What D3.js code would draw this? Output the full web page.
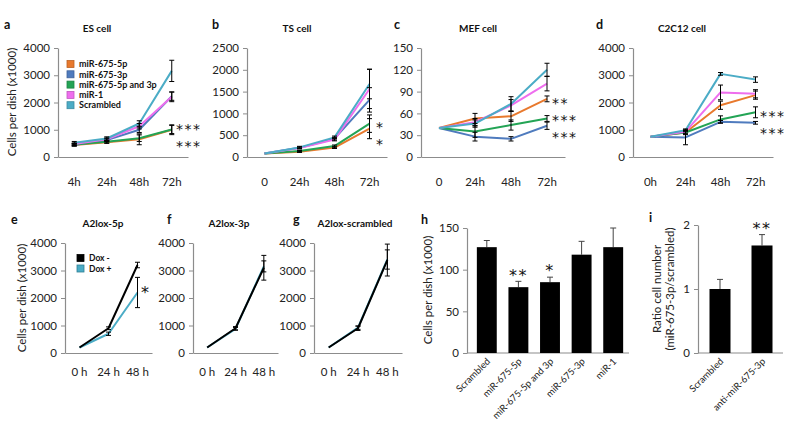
<!DOCTYPE html>
<html><head><meta charset="utf-8">
<script src="https://cdn.jsdelivr.net/npm/d3@7"></script>
<style>body{margin:0;background:#fff}svg{display:block}</style>
</head><body>
<svg id="chart" width="800" height="425"></svg>
<script>
// ---------------- DATA ----------------
const seriesNames = ["miR-675-5p","miR-675-3p","miR-675-5p and 3p","miR-1","Scrambled"];
const seriesColors = ["#E8792D","#4F7BBE","#23A455","#EE6EEE","#4BACC6"];

const timesA = ["4h","24h","48h","72h"];
const timesBC = ["0","24h","48h","72h"];
const timesD = ["0h","24h","48h","72h"];
const timesEFG = ["0 h","24 h","48 h"];

// a: ES cell
const es5p = [440, 540, 650, 1000],   es5pErr = [40, 40, 200, 180];
const es3p = [440, 620, 1000, 2230],  es3pErr = [40, 50, 100, 150];
const es53 = [460, 560, 690, 1010],   es53Err = [40, 40, 120, 150];
const esMiR1 = [475, 650, 1130, 2210],esMiR1Err = [40, 50, 100, 180];
const esScr = [520, 680, 1230, 3160], esScrErr = [50, 60, 100, 390];
const esTicks = [0,1000,2000,3000,4000];

// b: TS cell
const ts5p = [80, 120, 215, 650],     ts5pErr = [0, 15, 20, 230];
const ts3p = [80, 210, 420, 1310],    ts3pErr = [0, 20, 30, 280];
const ts53 = [80, 135, 250, 765],     ts53Err = [0, 15, 25, 200];
const tsMiR1 = [80, 205, 400, 1560],  tsMiR1Err = [0, 20, 30, 450];
const tsScr = [80, 220, 450, 1675],   tsScrErr = [0, 25, 30, 340];
const tsTicks = [0,500,1000,1500,2000,2500];

// c: MEF cell
const mef5p = [40, 53, 56, 80],       mef5pErr = [0, 7, 7, 4];
const mef3p = [40, 28, 25, 43],       mef3pErr = [0, 6, 3, 5];
const mef53 = [40, 35, 44, 53],       mef53Err = [0, 8, 7, 4];
const mefMiR1 = [40, 48, 71, 101],    mefMiR1Err = [0, 5, 8, 10];
const mefScr = [40, 46, 73, 120],     mefScrErr = [0, 5, 10, 9];
const mefTicks = [0,30,60,90,120,150];

// d: C2C12 cell
const c2_5p = [745, 900, 1900, 2270], c2_5pErr = [0, 80, 150, 150];
const c2_3p = [745, 720, 1290, 1255], c2_3pErr = [0, 270, 50, 50];
const c2_53 = [745, 900, 1380, 1640], c2_53Err = [0, 60, 130, 200];
const c2MiR1 = [745, 930, 2370, 2320],c2MiR1Err = [0, 60, 270, 150];
const c2Scr = [745, 980, 3050, 2840], c2ScrErr = [0, 50, 50, 100];
const c2Ticks = [0,1000,2000,3000,4000];

// e/f/g: A2lox
const doxNames = ["Dox -","Dox +"];
const doxColors = ["#000000","#4BACC6"];
const e5pMinus = [200, 900, 3200],  e5pMinusErr = [0, 50, 100];
const e5pPlus = [200, 700, 2200],   e5pPlusErr = [0, 60, 550];
const f3pMinus = [200, 900, 3100],  f3pMinusErr = [0, 60, 450];
const f3pPlus = [200, 880, 3150],   f3pPlusErr = [0, 50, 200];
const gScrMinus = [200, 900, 3380], gScrMinusErr = [0, 80, 580];
const gScrPlus = [200, 920, 3400],  gScrPlusErr = [0, 60, 350];
const a2Ticks = [0,1000,2000,3000,4000];

// h: bars
const hCats = ["Scrambled","miR-675-5p","miR-675-5p and 3p","miR-675-3p","miR-1"];
const hVals = [127, 79, 85, 118, 127];
const hErr = [8, 7, 6, 16, 23];
const hStars = ["", "**", "*", "", ""];
const hTicks = [0,50,100,150];

// i: bars
const iCats = ["Scrambled","anti-miR-675-3p"];
const iVals = [1.0, 1.68];
const iErr = [0.15, 0.17];
const iStars = ["", "**"];
const iTicks = [0,1,2];

// significance annotations beside the line panels
const starsA = ["***","***"];
const starsB = ["*","*"];
const starsC = ["**","***","***"];
const starsD = ["***","***"];
const starsE = ["*"];

// ---------------- DRAW ----------------
const FONT = "Lato, 'Open Sans', sans-serif";
const AX = "#8c8c8c";
const TXT = "#222";
const svg = d3.select("#chart");
const fmt = d3.format("d");

function styleAxis(g) {
  g.selectAll("path.domain").attr("stroke", AX).attr("stroke-width", 1.2);
  g.selectAll(".tick line").attr("stroke", AX);
  g.selectAll("text").attr("font-family", FONT).attr("font-size", 11.5).attr("fill", TXT);
}

function text(x, y, s, opts = {}) {
  const t = svg.append("text").attr("x", x).attr("y", y).text(s)
    .attr("font-family", opts.family || FONT)
    .attr("font-size", opts.size || 11.5)
    .attr("font-weight", opts.weight || "normal")
    .attr("fill", opts.fill || TXT)
    .attr("text-anchor", opts.anchor || "start");
  if (opts.rotate !== undefined) t.attr("transform", `rotate(${opts.rotate},${x},${y})`);
  return t;
}

// one text per row of stars; ys = visual centres of the asterisks
function stars(x, ys, rows, anchor, size) {
  const fs = size || 14;
  rows.forEach((r, i) => {
    svg.append("text").attr("x", x).attr("y", ys[i] + fs * 0.58).text(r)
      .attr("font-family", "'DejaVu Sans', sans-serif").attr("font-size", fs)
      .attr("letter-spacing", 1.5)
      .attr("fill", "#111").attr("text-anchor", anchor || "start");
  });
}

function errBar(g, cx, yv, e, y, cap) {
  if (!e) return;
  const y1 = y(yv + e), y2 = y(Math.max(0, yv - e));
  g.append("line").attr("x1", cx).attr("x2", cx).attr("y1", y1).attr("y2", y2).attr("stroke", "#000").attr("stroke-width", 1);
  [y1, y2].forEach(yy => g.append("line").attr("x1", cx - cap).attr("x2", cx + cap).attr("y1", yy).attr("y2", yy).attr("stroke", "#000").attr("stroke-width", 1));
}

function linePanel(p) {
  const x = d3.scaleBand().domain(p.cats).range([p.x0, p.x1]);
  const y = d3.scaleLinear().domain([p.ticks[0], p.ticks[p.ticks.length - 1]]).range([p.yBot, p.yTop]);
  const g = svg.append("g");
  const ya = g.append("g").attr("transform", `translate(${p.x0},0)`)
    .call(d3.axisLeft(y).tickValues(p.ticks).tickFormat(fmt).tickSize(4).tickSizeOuter(0).tickPadding(4));
  styleAxis(ya);
  const xa = g.append("g").attr("transform", `translate(0,${p.yBot})`)
    .call(d3.axisBottom(x).tickSize(0).tickSizeOuter(0).tickPadding(p.xPad));
  styleAxis(xa);
  const cx = c => x(c) + x.bandwidth() / 2;
  const line = d3.line().x((d, i) => cx(p.cats[i])).y(d => y(d));
  p.series.forEach(s => {
    g.append("path").datum(s.vals).attr("d", line).attr("fill", "none")
      .attr("stroke", s.color).attr("stroke-width", 2).attr("stroke-linejoin", "round");
  });
  p.series.forEach(s => {
    s.vals.forEach((v, i) => errBar(g, cx(p.cats[i]), v, s.errs[i], y, 2.5));
  });
  return {x, y};
}

// ---- top row ----
const topRow = {yTop: 48, yBot: 157, xPad: 21};
linePanel(Object.assign({}, topRow, {x0: 58, x1: 188, cats: timesA, ticks: esTicks, series: [
  {vals: es5p, errs: es5pErr, color: seriesColors[0]},
  {vals: es3p, errs: es3pErr, color: seriesColors[1]},
  {vals: es53, errs: es53Err, color: seriesColors[2]},
  {vals: esMiR1, errs: esMiR1Err, color: seriesColors[3]},
  {vals: esScr, errs: esScrErr, color: seriesColors[4]}]}));
linePanel(Object.assign({}, topRow, {x0: 247, x1: 387, cats: timesBC, ticks: tsTicks, series: [
  {vals: ts5p, errs: ts5pErr, color: seriesColors[0]},
  {vals: ts3p, errs: ts3pErr, color: seriesColors[1]},
  {vals: ts53, errs: ts53Err, color: seriesColors[2]},
  {vals: tsMiR1, errs: tsMiR1Err, color: seriesColors[3]},
  {vals: tsScr, errs: tsScrErr, color: seriesColors[4]}]}));
linePanel(Object.assign({}, topRow, {x0: 421, x1: 565, cats: timesBC, ticks: mefTicks, series: [
  {vals: mef5p, errs: mef5pErr, color: seriesColors[0]},
  {vals: mef3p, errs: mef3pErr, color: seriesColors[1]},
  {vals: mef53, errs: mef53Err, color: seriesColors[2]},
  {vals: mefMiR1, errs: mefMiR1Err, color: seriesColors[3]},
  {vals: mefScr, errs: mefScrErr, color: seriesColors[4]}]}));
linePanel(Object.assign({}, topRow, {x0: 633, x1: 773, cats: timesD, ticks: c2Ticks, series: [
  {vals: c2_5p, errs: c2_5pErr, color: seriesColors[0]},
  {vals: c2_3p, errs: c2_3pErr, color: seriesColors[1]},
  {vals: c2_53, errs: c2_53Err, color: seriesColors[2]},
  {vals: c2MiR1, errs: c2MiR1Err, color: seriesColors[3]},
  {vals: c2Scr, errs: c2ScrErr, color: seriesColors[4]}]}));

// legend a
seriesNames.forEach((n, i) => {
  const yy = 64 + i * 10.3;
  svg.append("rect").attr("x", 67).attr("y", yy - 3.5).attr("width", 7).attr("height", 7)
    .attr("fill", seriesColors[i]).attr("stroke", d3.color(seriesColors[i]).darker(0.6)).attr("stroke-width", 0.8);
  text(79, yy + 3.2, n, {size: 9, weight: "bold", fill: "#111"});
});

// ---- bottom row line panels ----
const botRow = {yTop: 243, yBot: 353, xPad: 15};
[[65, 152, e5pMinus, e5pMinusErr, e5pPlus, e5pPlusErr],
 [193, 278, f3pMinus, f3pMinusErr, f3pPlus, f3pPlusErr],
 [314, 402, gScrMinus, gScrMinusErr, gScrPlus, gScrPlusErr]].forEach(([x0, x1, m, me, pl, pe]) => {
  linePanel(Object.assign({}, botRow, {x0, x1, cats: timesEFG, ticks: a2Ticks, series: [
    {vals: pl, errs: pe, color: doxColors[1]},
    {vals: m, errs: me, color: doxColors[0]}]}));
});
// legend e
doxNames.forEach((n, i) => {
  const yy = 258 + i * 10.5;
  svg.append("rect").attr("x", 77).attr("y", yy - 3.5).attr("width", 7).attr("height", 7)
    .attr("fill", doxColors[i]).attr("stroke", i ? "#2f7f95" : "#000").attr("stroke-width", 0.8);
  text(89, yy + 3, n, {size: 8.5, weight: "bold", fill: "#111"});
});

// ---- bar panels ----
function barPanel(p) {
  const x = d3.scaleBand().domain(p.cats).range([p.bx0, p.x1]).paddingInner(p.pad).paddingOuter(p.pad / 2);
  const y = d3.scaleLinear().domain([p.ticks[0], p.ticks[p.ticks.length - 1]]).range([p.yBot, p.yTop]);
  const g = svg.append("g");
  const ya = g.append("g").attr("transform", `translate(${p.x0},0)`)
    .call(d3.axisLeft(y).tickValues(p.ticks).tickFormat(fmt).tickSize(4).tickSizeOuter(0).tickPadding(4));
  styleAxis(ya);
  g.append("line").attr("x1", p.x0).attr("x2", p.x1).attr("y1", p.yBot).attr("y2", p.yBot).attr("stroke", AX).attr("stroke-width", 1.2);
  p.vals.forEach((v, i) => {
    const c = p.cats[i];
    const cx = x(c) + x.bandwidth() / 2;
    const ye = y(v + p.errs[i]);
    g.append("line").attr("x1", cx).attr("x2", cx).attr("y1", ye).attr("y2", y(v)).attr("stroke", "#444").attr("stroke-width", 1);
    g.append("line").attr("x1", cx - 3).attr("x2", cx + 3).attr("y1", ye).attr("y2", ye).attr("stroke", "#444").attr("stroke-width", 1);
    g.append("rect").attr("x", x(c)).attr("y", y(v)).attr("width", x.bandwidth()).attr("height", p.yBot - y(v)).attr("fill", "#000");
    text(cx + 4, p.yBot + 9, c, {size: 9.5, anchor: "end", rotate: -45});
    if (p.stars[i]) stars(cx, [ye - 10], [p.stars[i]], "middle", 16);
  });
}
barPanel({x0: 467, bx0: 471, x1: 629, yTop: 228, yBot: 353, cats: hCats, vals: hVals, errs: hErr, stars: hStars, ticks: hTicks, pad: 0.37});
barPanel({x0: 698, bx0: 699, x1: 783, yTop: 225, yBot: 353, cats: iCats, vals: iVals, errs: iErr, stars: iStars, ticks: iTicks, pad: 0.5});

// ---- titles, letters, labels ----
[["a",4,29],["b",212,29],["c",394,29],["d",596,29],["e",11,224],["f",167,224],["g",293,224],["h",421,224],["i",649,222]]
  .forEach(([l, x, y]) => text(x, y, l, {size: 12.5, weight: "bold", fill: "#111"}));
[["ES cell",97,32],["TS cell",297,32],["MEF cell",478,32],["C2C12 cell",682,32],
 ["A2lox-5p",103,227],["A2lox-3p",229,227],["A2lox-scrambled",355,227]]
  .forEach(([s, x, y]) => text(x, y, s, {size: 10, weight: "bold", anchor: "middle", fill: "#111"}));
text(16, 102, "Cells per dish (x1000)", {anchor: "middle", rotate: -90});
text(26, 298, "Cells per dish (x1000)", {anchor: "middle", rotate: -90});
text(432, 290, "Cells per dish (x1000)", {anchor: "middle", rotate: -90});
text(661, 289, "Ratio cell number", {anchor: "middle", rotate: -90});
text(674, 289, "(miR-675-3p/scrambled)", {anchor: "middle", rotate: -90});

// significance stars on line panels
stars(176, [126, 143], starsA);
stars(376, [124, 141], starsB);
stars(552, [100, 117, 134], starsC);
stars(760, [113, 130], starsD);
stars(141, [289], starsE, "start", 16);
</script>
</body></html>
